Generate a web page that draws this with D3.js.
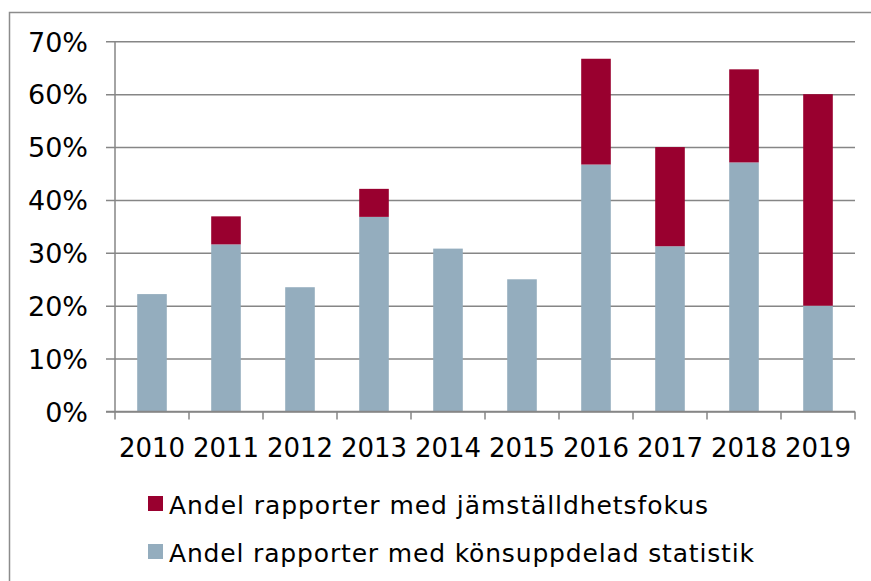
<!DOCTYPE html>
<html>
<head>
<meta charset="utf-8">
<script src="https://cdn.jsdelivr.net/npm/d3@7"></script>
<style>
  body { margin: 0; background: #fff; }
  svg { display: block; font-family: "DejaVu Sans", Verdana, sans-serif; }
</style>
</head>
<body>
<div id="chart"></div>
<script>
// data (percent)
var years = ['2010', '2011', '2012', '2013', '2014', '2015', '2016', '2017', '2018', '2019'];
var konsuppdelad = [22.2, 31.6, 23.5, 36.8, 30.8, 25.0, 46.7, 31.25, 47.1, 20.0];
var jamstalldhet = [0, 5.3, 0, 5.3, 0, 0, 20.0, 18.75, 17.6, 40.0];
var yTicks = [0, 10, 20, 30, 40, 50, 60, 70];
var seriesNames = ['Andel rapporter med jämställdhetsfokus', 'Andel rapporter med könsuppdelad statistik'];

var WIDTH = 871, HEIGHT = 581;
var colBlue = '#94adbe', colRed = '#99002f', gridCol = '#868686';

var svg = d3.select('#chart').append('svg')
  .attr('width', WIDTH)
  .attr('height', HEIGHT);

// outer frame, runs off the right and bottom edges
svg.append('rect')
  .attr('x', 9.5).attr('y', 12.5)
  .attr('width', 900).attr('height', 600)
  .attr('fill', 'none')
  .attr('stroke', '#8c8c8c')
  .attr('stroke-width', 1.5);

var x = d3.scaleBand().domain(years).range([115, 855]).paddingInner(0.6).paddingOuter(0.3);
var xTickScale = d3.scaleLinear().domain([0, years.length]).range([115, 855]);
var y = d3.scaleLinear().domain([0, 70]).range([411.5, 41.3]);

// gridlines + y labels
var yAxis = d3.axisLeft(y)
  .tickValues(yTicks)
  .tickSize(-(855 - 106))
  .tickFormat(function(d) { return d + '%'; });

var gy = svg.append('g')
  .attr('transform', 'translate(106,0)')
  .call(yAxis)
  .attr('font-family', null)   // axis sets sans-serif, use the page font instead
  .attr('font-size', null);
gy.select('.domain').remove();
gy.selectAll('.tick line')
  .attr('stroke', gridCol)
  .attr('stroke-width', 1.5);
gy.selectAll('.tick text')
  .attr('x', -18)
  .attr('dy', '0.36em')
  .attr('fill', '#000')
  .style('font-size', '27px');

// stacked bars
var table = years.map(function(yr, i) {
  return { year: yr, blue: konsuppdelad[i], red: jamstalldhet[i] };
});
var stack = d3.stack().keys(['blue', 'red'])(table);
var colors = { blue: colBlue, red: colRed };

svg.selectAll('g.layer')
  .data(stack)
  .enter().append('g')
  .attr('class', 'layer')
  .attr('fill', function(d) { return colors[d.key]; })
  .selectAll('rect')
  .data(function(d) { return d.filter(function(p) { return p[1] - p[0] > 0; }); })
  .enter().append('rect')
  .attr('x', function(d) { return x(d.data.year); })
  .attr('width', x.bandwidth())
  .attr('y', function(d) { return y(d[1]); })
  .attr('height', function(d) { return y(d[0]) - y(d[1]); });

// y axis line
svg.append('line')
  .attr('x1', 115).attr('x2', 115)
  .attr('y1', y(70)).attr('y2', y(0))
  .attr('stroke', gridCol).attr('stroke-width', 1.5);

// x axis: line, ticks between categories, labels centred
svg.append('line')
  .attr('x1', 106).attr('x2', 855)
  .attr('y1', y(0)).attr('y2', y(0))
  .attr('stroke', gridCol).attr('stroke-width', 1.5);

svg.selectAll('line.xtick')
  .data(d3.range(years.length + 1))
  .enter().append('line')
  .attr('class', 'xtick')
  .attr('x1', function(d) { return xTickScale(d); })
  .attr('x2', function(d) { return xTickScale(d); })
  .attr('y1', y(0)).attr('y2', y(0) + 8)
  .attr('stroke', gridCol).attr('stroke-width', 1.5);

svg.selectAll('text.xlab')
  .data(years)
  .enter().append('text')
  .attr('class', 'xlab')
  .attr('x', function(d) { return x(d) + x.bandwidth() / 2; })
  .attr('y', 457.3)
  .attr('text-anchor', 'middle')
  .style('font-size', '26px')
  .text(function(d) { return d; });

// legend
var legendColors = [colRed, colBlue];
var legendWidths = [539, 585];
var legend = svg.selectAll('g.legend')
  .data(seriesNames)
  .enter().append('g')
  .attr('class', 'legend')
  .attr('transform', function(d, i) { return 'translate(148,' + (496 + i * 48) + ')'; });

legend.append('rect')
  .attr('width', 15).attr('height', 15)
  .attr('fill', function(d, i) { return legendColors[i]; });

legend.append('text')
  .attr('x', 21)
  .attr('y', 17.5)
  .style('font-size', '25px')
  .attr('textLength', function(d, i) { return legendWidths[i]; })
  .attr('lengthAdjust', 'spacing')
  .text(function(d) { return d; });
</script>
</body>
</html>
